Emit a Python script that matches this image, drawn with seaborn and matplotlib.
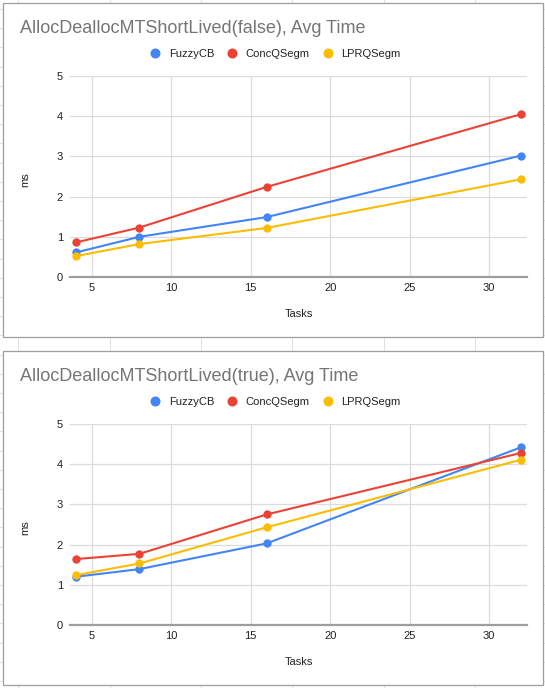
import numpy as np
import pandas as pd
import seaborn as sns
import matplotlib.pyplot as plt
from matplotlib.patches import Rectangle
from matplotlib.lines import Line2D

# data
tasks = [4, 8, 16, 32]
series_names = ["FuzzyCB", "ConcQSegm", "LPRQSegm"]

fuzzy_false = [0.61, 1.00, 1.49, 3.02]
concq_false = [0.86, 1.23, 2.24, 4.05]
lprq_false = [0.52, 0.82, 1.22, 2.43]

fuzzy_true = [1.20, 1.39, 2.03, 4.42]
concq_true = [1.64, 1.77, 2.75, 4.28]
lprq_true = [1.24, 1.53, 2.43, 4.11]

titles = ["AllocDeallocMTShortLived(false), Avg Time",
          "AllocDeallocMTShortLived(true), Avg Time"]
x_ticks = [5, 10, 15, 20, 25, 30]
y_ticks = [0, 1, 2, 3, 4, 5]

colors = {"FuzzyCB": "#4285F4", "ConcQSegm": "#EA4335", "LPRQSegm": "#FBBC04"}

W, H = 545, 688


def long_frame(fuzzy, concq, lprq):
    rows = []
    for name, vals in zip(series_names, [fuzzy, concq, lprq]):
        for t, v in zip(tasks, vals):
            rows.append({"Tasks": t, "ms": v, "series": name})
    return pd.DataFrame(rows)


frames = [long_frame(fuzzy_false, concq_false, lprq_false),
          long_frame(fuzzy_true, concq_true, lprq_true)]

sns.set_style("white")
plt.rcParams['font.family'] = ['Liberation Sans', 'DejaVu Sans']

fig = plt.figure(figsize=(W / 100, H / 100), dpi=100)


def fx(px):
    return px / W


def fy(py):
    return 1 - py / H


# spreadsheet cell grid behind the charts
for gx in np.arange(18.3, W, 91.3):
    fig.add_artist(Line2D([fx(gx), fx(gx)], [0, 1], color="#e2e2e2", lw=0.8, zorder=-3))
for gy in np.arange(9, H, 19.2):
    fig.add_artist(Line2D([0, 1], [fy(gy), fy(gy)], color="#e2e2e2", lw=0.8, zorder=-3))

offset = 348
for i, df in enumerate(frames):
    dy = i * offset

    # chart card
    fig.add_artist(Rectangle((fx(2.7), fy(336.7 + dy)), fx(540.6), 334 / H,
                             facecolor="white", edgecolor="#9e9e9e", lw=0.9, zorder=-1))

    ax = fig.add_axes([fx(70), fy(277 + dy), fx(457.3), 201 / H])
    ax.set_facecolor("white")
    sns.lineplot(data=df, x="Tasks", y="ms", hue="series", hue_order=series_names,
                 palette=colors, marker="o", markersize=6, markeredgewidth=0,
                 linewidth=1.5, legend=False, ax=ax, zorder=3)

    ax.set_xlim(3.63, 32.4)
    ax.set_ylim(0, 5)
    ax.set_xticks(x_ticks)
    ax.set_yticks(y_ticks)
    ax.grid(True, color="#dcdcdc", lw=0.9)
    ax.set_axisbelow(True)
    for s in ["top", "right", "left"]:
        ax.spines[s].set_visible(False)
    ax.spines["bottom"].set_color("#9e9e9e")
    ax.spines["bottom"].set_linewidth(1.6)
    ax.spines["bottom"].set_zorder(2)
    ax.tick_params(axis="both", length=0, labelsize=8, labelcolor="#222222")
    ax.tick_params(axis="x", pad=4)
    ax.tick_params(axis="y", pad=5)
    ax.set_xlabel("")
    ax.set_ylabel("")

    fig.text(fx(25), fy(180 + dy), "ms", rotation=90, ha="center", va="center",
             fontsize=8, color="#222222")
    fig.text(fx(299), fy(314 + dy), "Tasks", ha="center", va="center",
             fontsize=8, color="#222222")

    fig.text(fx(20), fy(33.3 + dy), titles[i], ha="left", va="baseline",
             fontsize=13, color="#757575")

    handles = [Line2D([], [], linestyle="none", marker="o", markersize=7.2,
                      markeredgewidth=0, color=colors[n]) for n in series_names]
    fig.legend(handles, series_names, loc="center",
               bbox_to_anchor=(fx(275), fy(54.3 + dy)), ncol=3, frameon=False,
               fontsize=8, handlelength=1.0, handletextpad=0.75,
               columnspacing=1.1, labelcolor="#222222")

fig.savefig("out.png", dpi=100)
